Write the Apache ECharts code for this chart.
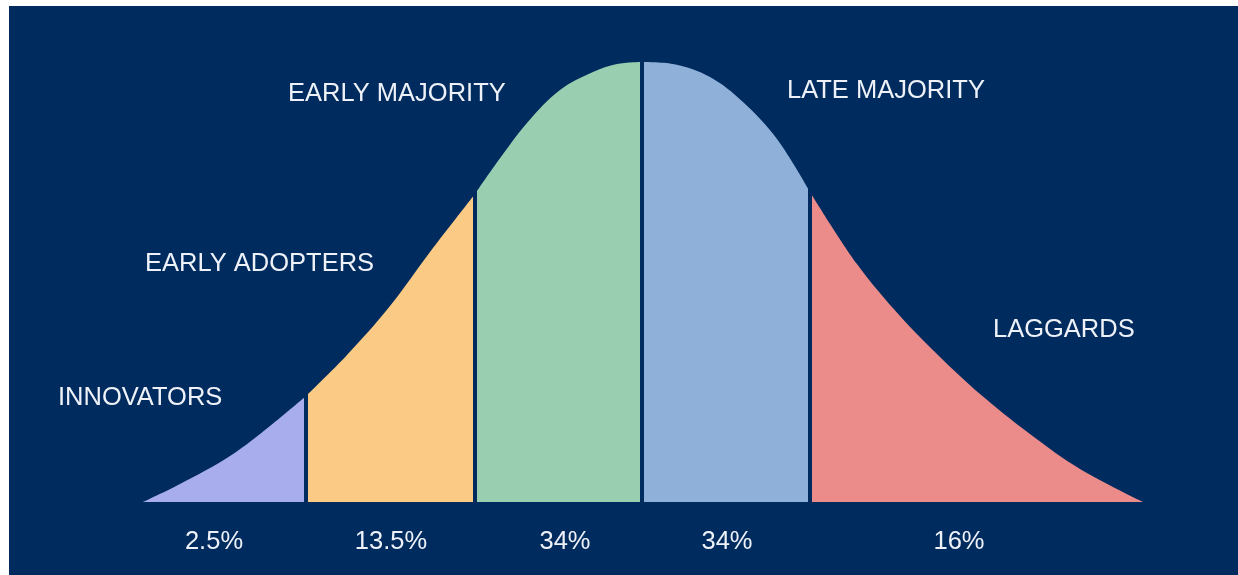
<!DOCTYPE html>
<html>
<head>
    <meta charset="utf-8">
    <script src="https://cdn.jsdelivr.net/npm/echarts@6/dist/echarts.min.js"></script>
    <style>
        html, body { margin: 0; padding: 0; background: #ffffff; }
        #bell { width: 1238px; height: 575px; }
    </style>
</head>
<body>
    <div id="bell"></div>
<script>
// Curve: x position along the base, height above the base
const curveX = [143, 180, 230, 270, 306, 347, 390, 430, 475, 493, 527, 560, 593, 617, 642, 673, 710, 743, 777, 810, 857, 900, 940, 980, 1030, 1080, 1143];
const curveH = [0, 18, 46, 76, 106, 147, 196, 250, 308, 334, 379, 412, 430, 438, 440, 438, 425, 400, 363, 310, 238, 186, 145, 108, 68, 33, 0];

// segment boundaries along x
const bounds = [143, 306, 475, 642, 810, 1143];
const groups = ['INNOVATORS', 'EARLY ADOPTERS', 'EARLY MAJORITY', 'LATE MAJORITY', 'LAGGARDS'];
const shares = ['2.5%', '13.5%', '34%', '34%', '16%'];

// colours and label placement (layout only)
const fills = ['#a8adee', '#fbca84', '#99cfb0', '#8fb0d9', '#eb8c8b'];
const navy = '#002b5e';
const nameSpots = [[58, 396], [145, 262], [288, 92], [787, 89], [993, 328]];
const shareSpots = [214, 391, 565, 727, 959];
const labelFont = '25.5px "Liberation Sans", Arial, sans-serif';

var chart = echarts.init(document.getElementById('bell'));

var series = [];
for (let i = 0; i < groups.length; i++) {
    let pts = [];
    for (let k = 0; k < curveX.length; k++) {
        if (curveX[k] >= bounds[i] && curveX[k] <= bounds[i + 1]) pts.push([curveX[k], curveH[k]]);
    }
    series.push({
        name: groups[i],
        type: 'line',
        smooth: 0.35,
        showSymbol: false,
        silent: true,
        z: 2,
        lineStyle: { width: 0 },
        areaStyle: { color: fills[i], opacity: 1 },
        data: pts
    });
}
// dark gaps between segments
for (let i = 1; i < bounds.length - 1; i++) {
    let h = curveH[curveX.indexOf(bounds[i])];
    series.push({
        type: 'line',
        showSymbol: false,
        silent: true,
        z: 5,
        lineStyle: { color: navy, width: 4, cap: 'butt' },
        data: [[bounds[i], 0], [bounds[i], h + 8]]
    });
}

var graphics = [{
    type: 'rect',
    z: -10,
    shape: { x: 9, y: 6, width: 1240, height: 580 },
    style: { fill: navy }
}];
groups.forEach(function (g, i) {
    graphics.push({
        type: 'text',
        left: nameSpots[i][0],
        top: nameSpots[i][1] - 11,
        style: { text: g, fill: '#eef2f8', font: labelFont }
    });
});
shares.forEach(function (s, i) {
    graphics.push({
        type: 'text',
        x: shareSpots[i],
        y: 542,
        style: { text: s, fill: '#eef2f8', align: 'center', verticalAlign: 'middle', font: labelFont }
    });
});

chart.setOption({
    backgroundColor: '#ffffff',
    animation: false,
    grid: { left: 143, right: 95, top: 62, bottom: 73 },
    xAxis: { type: 'value', min: 143, max: 1143, show: false },
    yAxis: { type: 'value', min: 0, max: 440, show: false },
    graphic: graphics,
    series: series
});
</script>
</body>
</html>
